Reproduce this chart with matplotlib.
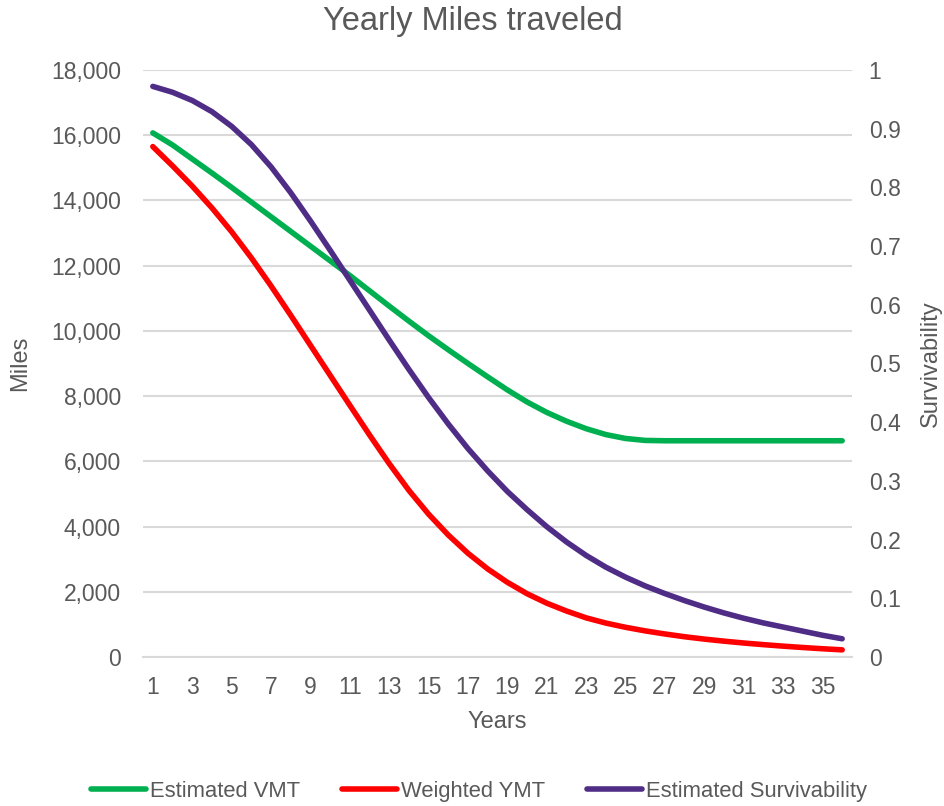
import matplotlib
matplotlib.use("Agg")
import matplotlib.pyplot as plt
from matplotlib.ticker import FuncFormatter, MultipleLocator

plt.rcParams['font.family'] = ['Liberation Sans', 'DejaVu Sans']

years = list(range(1, 37))

estimated_vmt = [16070, 15700, 15270, 14840, 14400, 13950, 13500, 13050, 12600, 12150,
                 11700, 11230, 10760, 10300, 9850, 9420, 9000, 8590, 8190, 7820,
                 7500, 7230, 7000, 6820, 6700, 6640, 6630, 6630, 6630, 6630,
                 6630, 6630, 6630, 6630, 6630, 6630]

weighted_ymt = [15650, 15060, 14440, 13770, 13040, 12240, 11380, 10480, 9560, 8640,
                7720, 6810, 5930, 5110, 4380, 3740, 3180, 2700, 2290, 1940,
                1650, 1410, 1200, 1040, 910, 800, 705, 620, 548, 485,
                428, 378, 332, 290, 252, 218]

survivability = [0.972, 0.962, 0.948, 0.929, 0.904, 0.873, 0.835, 0.791, 0.743, 0.693,
                 0.642, 0.591, 0.540, 0.490, 0.442, 0.397, 0.355, 0.317, 0.282, 0.251,
                 0.222, 0.196, 0.173, 0.153, 0.136, 0.121, 0.108, 0.096, 0.085, 0.075,
                 0.066, 0.058, 0.051, 0.044, 0.037, 0.031]

text_color = '#595959'
grid_color = '#D9D9D9'

fig = plt.figure(figsize=(9.45, 8.06), dpi=100)
ax = fig.add_axes([0.1513, 0.1849, 0.7503, 0.7283])
ax2 = ax.twinx()

line_kw = dict(lw=4, solid_capstyle='round', solid_joinstyle='round')
l1, = ax.plot(years, estimated_vmt, color='#00B050', label='Estimated VMT', **line_kw)
l2, = ax.plot(years, weighted_ymt, color='#FF0000', label='Weighted YMT', **line_kw)
l3, = ax2.plot(years, survivability, color='#4F2D87', label='Estimated Survivability', **line_kw)

ax.set_xlim(0.5, 36.5)
ax.set_ylim(0, 18000)
ax2.set_ylim(0, 1)

ax.set_xticks(years[::2])
ax.yaxis.set_major_locator(MultipleLocator(2000))
ax.yaxis.set_major_formatter(FuncFormatter(lambda v, p: f'{int(v):,}'))
ax2.yaxis.set_major_locator(MultipleLocator(0.1))
ax2.yaxis.set_major_formatter(FuncFormatter(lambda v, p: f'{round(v, 1):g}'))

ax.grid(axis='y', color=grid_color, lw=1.5)
ax.set_axisbelow(True)
for a in (ax, ax2):
    for s in a.spines.values():
        s.set_visible(False)
ax.spines['bottom'].set_visible(True)
ax.spines['bottom'].set_color(grid_color)
ax.spines['bottom'].set_linewidth(1.5)

ax.tick_params(axis='y', length=0, pad=16, labelsize=16.5, labelcolor=text_color)
ax.tick_params(axis='x', length=0, pad=14, labelsize=16.5, labelcolor=text_color)
ax2.tick_params(axis='y', length=0, pad=12, labelsize=16.5, labelcolor=text_color)

ax.set_xlabel('Years', fontsize=17, color=text_color, labelpad=8)
ax.set_ylabel('Miles', fontsize=17, color=text_color, labelpad=14)
ax2.set_ylabel('Survivability', fontsize=17, color=text_color, rotation=90, labelpad=14)

fig.suptitle('Yearly Miles traveled', fontsize=23.5, color=text_color, y=0.993, va='top')

leg = fig.legend(handles=[l1, l2, l3], loc='center', bbox_to_anchor=(0.507, 0.018),
                 ncol=3, frameon=False, fontsize=15.8, handlelength=2.5,
                 handletextpad=0.2, columnspacing=1.9, borderaxespad=0)
for t in leg.get_texts():
    t.set_color(text_color)

fig.savefig('out.png', dpi=100)
